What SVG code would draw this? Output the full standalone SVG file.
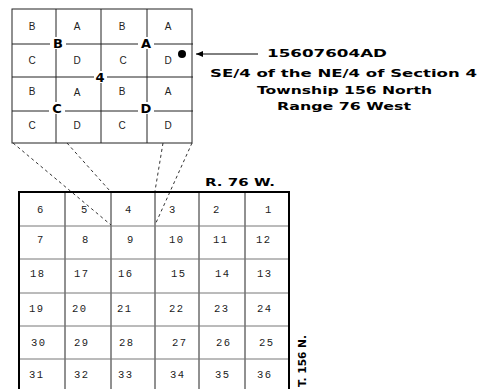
<svg xmlns="http://www.w3.org/2000/svg" width="481" height="389" viewBox="0 0 481 389">
<style>
.g{stroke:#222;stroke-width:1;fill:none}
.gh{stroke:#777;stroke-width:1;fill:none}
.ob{stroke:#000;stroke-width:2;fill:none}
.sm{font-family:"Liberation Sans",Arial,sans-serif;font-size:10px;fill:#222;text-anchor:middle}
.big{font-family:"DejaVu Sans","Liberation Sans",sans-serif;font-weight:bold;font-size:13px;fill:#000;text-anchor:middle}
.num{font-family:"Liberation Mono","DejaVu Sans Mono",monospace;font-size:10.5px;fill:#222;letter-spacing:1.5px}
.lab{font-family:"DejaVu Sans","Liberation Sans",sans-serif;font-weight:bold;font-size:10.5px;fill:#000}
.dash{stroke:#333;stroke-width:1;stroke-dasharray:3,3;fill:none}
</style>
<defs>
<marker id="ah" markerWidth="8" markerHeight="8" refX="7" refY="3" orient="auto" markerUnits="userSpaceOnUse">
<path d="M7,3 L0,0 L0,6 Z" fill="#000"/>
</marker>
</defs>
<rect width="481" height="389" fill="#fff"/>

<g id="quarter-grid">
<rect x="12" y="9" width="180" height="134" class="g"/>
<line x1="56" y1="9" x2="56" y2="143" class="g"/>
<line x1="101" y1="9" x2="101" y2="143" class="g"/>
<line x1="147" y1="9" x2="147" y2="143" class="g"/>
<line x1="12" y1="44" x2="193" y2="44" class="g"/>
<line x1="12" y1="77" x2="193" y2="77" class="g"/>
<line x1="12" y1="111" x2="193" y2="111" class="g"/>
<g>
<text class="sm" x="32" y="30">B</text><text class="sm" x="77" y="30">A</text><text class="sm" x="122" y="30">B</text><text class="sm" x="168" y="30">A</text>
<text class="sm" x="32" y="64">C</text><text class="sm" x="77" y="64">D</text><text class="sm" x="123" y="64">C</text><text class="sm" x="168" y="64">D</text>
<text class="sm" x="32" y="95">B</text><text class="sm" x="77" y="96">A</text><text class="sm" x="122" y="95">B</text><text class="sm" x="168" y="95">A</text>
<text class="sm" x="32" y="129">C</text><text class="sm" x="77" y="129">D</text><text class="sm" x="122" y="129">C</text><text class="sm" x="168" y="129">D</text>
</g>
<g fill="#fff">
<rect x="50" y="37" width="16" height="12"/>
<rect x="138" y="37" width="16" height="12"/>
<rect x="94" y="71" width="13" height="12"/>
<rect x="49" y="102" width="16" height="12"/>
<rect x="138" y="102" width="16" height="12"/>
</g>
<text class="big" x="58" y="48">B</text>
<text class="big" x="146" y="48">A</text>
<text class="big" x="100" y="82">4</text>
<text class="big" x="57" y="113">C</text>
<text class="big" x="146" y="113">D</text>
</g>

<g id="location-dot">
<circle cx="182" cy="54" r="4" fill="#000"/>
</g>

<g id="connectors">
<line x1="258" y1="54" x2="196" y2="54" stroke="#000" stroke-width="1" marker-end="url(#ah)"/>
<line x1="13" y1="143" x2="111" y2="225" class="dash"/>
<line x1="67" y1="143" x2="110" y2="191" class="dash"/>
<line x1="163" y1="143" x2="155" y2="191" class="dash"/>
<line x1="192" y1="143" x2="155" y2="225" class="dash"/>
</g>

<g id="label">
<text class="lab" x="267" y="57" textLength="120" lengthAdjust="spacingAndGlyphs">15607604AD</text>
<text class="lab" x="210" y="77" textLength="267" lengthAdjust="spacingAndGlyphs">SE/4 of the NE/4 of Section 4</text>
<text class="lab" x="257" y="94" textLength="175" lengthAdjust="spacingAndGlyphs">Township 156 North</text>
<text class="lab" x="277" y="110" textLength="134" lengthAdjust="spacingAndGlyphs">Range 76 West</text>
</g>

<g id="township-grid">
<line x1="65" y1="192" x2="65" y2="389" class="g"/>
<line x1="111" y1="192" x2="111" y2="389" class="g"/>
<line x1="155" y1="192" x2="155" y2="389" class="g"/>
<line x1="199" y1="192" x2="199" y2="389" class="g"/>
<line x1="245" y1="192" x2="245" y2="389" class="g"/>
<line x1="19" y1="226" x2="289" y2="226" class="gh"/>
<line x1="19" y1="259" x2="289" y2="259" class="gh"/>
<line x1="19" y1="293" x2="289" y2="293" class="gh"/>
<line x1="19" y1="326" x2="289" y2="326" class="gh"/>
<line x1="19" y1="359" x2="289" y2="359" class="gh"/>
<path d="M19,395 L19,192 L289,192 L289,395" class="ob"/>
<g class="num">
<text x="37" y="213">6</text><text x="81" y="213">5</text><text x="125" y="213">4</text><text x="169" y="213">3</text><text x="213" y="213">2</text><text x="265" y="213">1</text>
<text x="37" y="243">7</text><text x="82" y="243">8</text><text x="127" y="243">9</text><text x="169" y="243">10</text><text x="213" y="243">11</text><text x="256" y="243">12</text>
<text x="30" y="277">18</text><text x="74" y="277">17</text><text x="118" y="277">16</text><text x="171" y="277">15</text><text x="215" y="277">14</text><text x="257" y="277">13</text>
<text x="29" y="312">19</text><text x="72" y="312">20</text><text x="117" y="312">21</text><text x="169" y="312">22</text><text x="214" y="312">23</text><text x="257" y="312">24</text>
<text x="31" y="346">30</text><text x="74" y="346">29</text><text x="119" y="346">28</text><text x="172" y="346">27</text><text x="216" y="346">26</text><text x="259" y="346">25</text>
<text x="29" y="378">31</text><text x="74" y="378">32</text><text x="118" y="378">33</text><text x="170" y="378">34</text><text x="215" y="378">35</text><text x="257" y="378">36</text>
</g>
<text class="lab" x="205" y="186" textLength="70" lengthAdjust="spacingAndGlyphs">R. 76 W.</text>
<text class="lab" transform="translate(306,387) rotate(-90)" x="0" y="0" textLength="52" lengthAdjust="spacingAndGlyphs">T. 156 N.</text>
</g>
</svg>
